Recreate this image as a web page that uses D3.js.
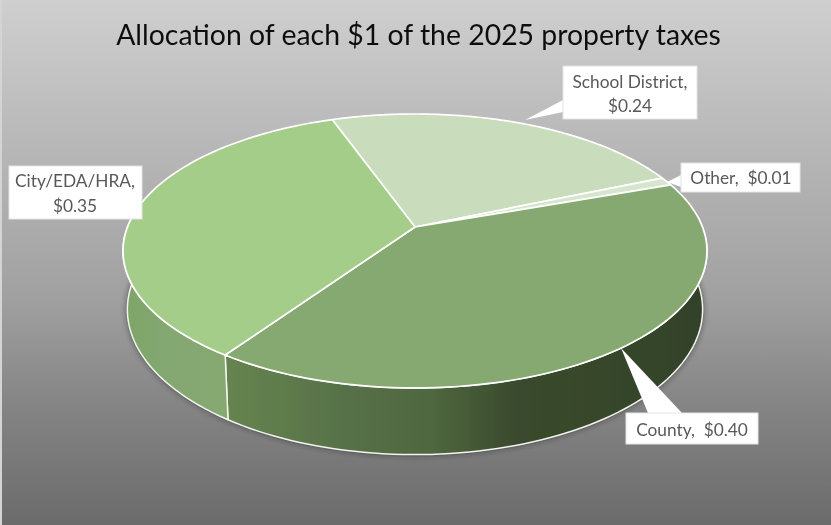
<!DOCTYPE html>
<html><head><meta charset="utf-8">
<script src="https://cdn.jsdelivr.net/npm/d3@7/dist/d3.min.js"></script>
<style>html,body{margin:0;padding:0;background:#999}svg{display:block}text{font-family:"Lato",sans-serif}</style>
</head><body><svg id="c" width="831" height="525"></svg>
<script>
const categories=["School District","Other","County","City/EDA/HRA"];
const values=[0.24,0.01,0.40,0.35];
const topColors=["#c9dcbc","#d6e5cd","#86a971","#a5cd8a"];
const labelLines=[["School District,","$0.24"],["Other,  $0.01"],["County,  $0.40"],["City/EDA/HRA,","$0.35"]];
const title="Allocation of each $1 of the 2025 property taxes";

const W=831,H=525;
const svg=d3.select("#c");
const defs=svg.append("defs");
const bg=defs.append("linearGradient").attr("id","bg").attr("x1",0).attr("y1",0).attr("x2",0).attr("y2",1);
[[0,"#cfcfcf"],[0.27,"#b8b8b8"],[0.57,"#a0a0a0"],[0.76,"#868686"],[1,"#6b6b6b"]].forEach(s=>bg.append("stop").attr("offset",s[0]).attr("stop-color",s[1]));
defs.append("filter").attr("id","soft").attr("x","-5%").attr("y","-5%").attr("width","110%").attr("height","110%").append("feGaussianBlur").attr("stdDeviation",3);
defs.append("filter").attr("id","pic").attr("x",0).attr("y",0).attr("width","100%").attr("height","100%").append("feGaussianBlur").attr("stdDeviation",0.45);
const root=svg.append("g").attr("filter","url(#pic)");
root.append("rect").attr("width",W).attr("height",H).attr("fill","url(#bg)");
root.append("rect").attr("width",2).attr("height",H).attr("fill","#d4d4d4");

const cx=415,cy=227,A=287.5,B=132.8,k=0.175,depth=57,sx=0.985,sy=1.06;
const project=(t,low=false)=>{const u=Math.sin(t),v=Math.cos(t),w=1+k*v;
  const x=A*u/w,y=-B*v/w;
  return low?[cx+x*sx,cy+depth+y*sy]:[cx+x,cy+y];};
const line=d3.line();
const rad=d=>d*Math.PI/180;
const start=rad(-19.6);
const arcs=d3.pie().sort(null).startAngle(start).endAngle(start+2*Math.PI)(values);
const samples=(a,b,low=false)=>d3.range(0,81).map(i=>project(a+(b-a)*i/80,low));

const g1=defs.append("linearGradient").attr("id","wallR").attr("gradientUnits","userSpaceOnUse").attr("x1",225).attr("x2",708).attr("y1",0).attr("y2",0);
[[0,"#66844f"],[0.26,"#567048"],[0.43,"#4f673f"],[0.6,"#3a4a2d"],[1,"#33422a"]].forEach(s=>g1.append("stop").attr("offset",s[0]).attr("stop-color",s[1]));
const g2=defs.append("linearGradient").attr("id","wallL").attr("gradientUnits","userSpaceOnUse").attr("x1",123).attr("x2",230).attr("y1",0).attr("y2",0);
[[0,"#7ea569"],[0.5,"#85a872"],[1,"#86a871"]].forEach(s=>g2.append("stop").attr("offset",s[0]).attr("stop-color",s[1]));

// soft shadow round the base
root.append("path").attr("d",line(samples(Math.PI/2-0.5,3*Math.PI/2+0.5,true))+"Z").attr("fill","#222").attr("opacity",0.75).attr("filter","url(#soft)");

const county=arcs[2],city=arcs[3];
const wall=(a,b,fill)=>{
  const pts=samples(a,b,false).concat(samples(b,a,true));
  root.append("path").attr("d",line(pts)+"Z").attr("fill",fill).attr("stroke","#f2f5ee").attr("stroke-width",1.5).attr("stroke-linejoin","round");
};
wall(Math.PI/2-0.08,county.endAngle,"url(#wallR)");
wall(city.startAngle,3*Math.PI/2+0.12,"url(#wallL)");

arcs.forEach((a,i)=>{
  const pts=[[cx,cy]].concat(samples(a.startAngle,a.endAngle));
  root.append("path").attr("d",line(pts)+"Z").attr("fill",topColors[i]).attr("stroke","#fff").attr("stroke-width",1.7).attr("stroke-linejoin","round");
});

const callouts=[
 {i:0,x:563,y:66,w:134,h:53,tip:[525,120],base:[[563,100],[563,112]],lines:[[630,88],[630,112]]},
 {i:1,x:681,y:163,w:119,h:29,tip:[667,182],base:[[681,175],[681,187]],lines:[[741,184]]},
 {i:2,x:626,y:413,w:132,h:31,tip:[621,348],base:[[648,413],[682,413]],lines:[[692,436]]},
 {i:3,x:9,y:166,w:133,h:53,lines:[[75,187],[75,212]]}
];
callouts.forEach(c=>{
  if(c.tip) root.append("path").attr("d",line([c.base[0],c.tip,c.base[1]])+"Z").attr("fill","#fff");
  root.append("rect").attr("x",c.x).attr("y",c.y).attr("width",c.w).attr("height",c.h).attr("fill","#fff").attr("stroke","#e4e4e4").attr("stroke-width",1);
  c.lines.forEach((p,j)=>root.append("text").attr("x",p[0]).attr("y",p[1]).attr("text-anchor","middle").attr("font-size",17.3).attr("fill","#595959").style("white-space","pre").text(labelLines[c.i][j]));
});

root.append("text").attr("x",418.5).attr("y",45).attr("text-anchor","middle").attr("font-size",28.4).attr("fill","#111").text(title);
</script></body></html>
